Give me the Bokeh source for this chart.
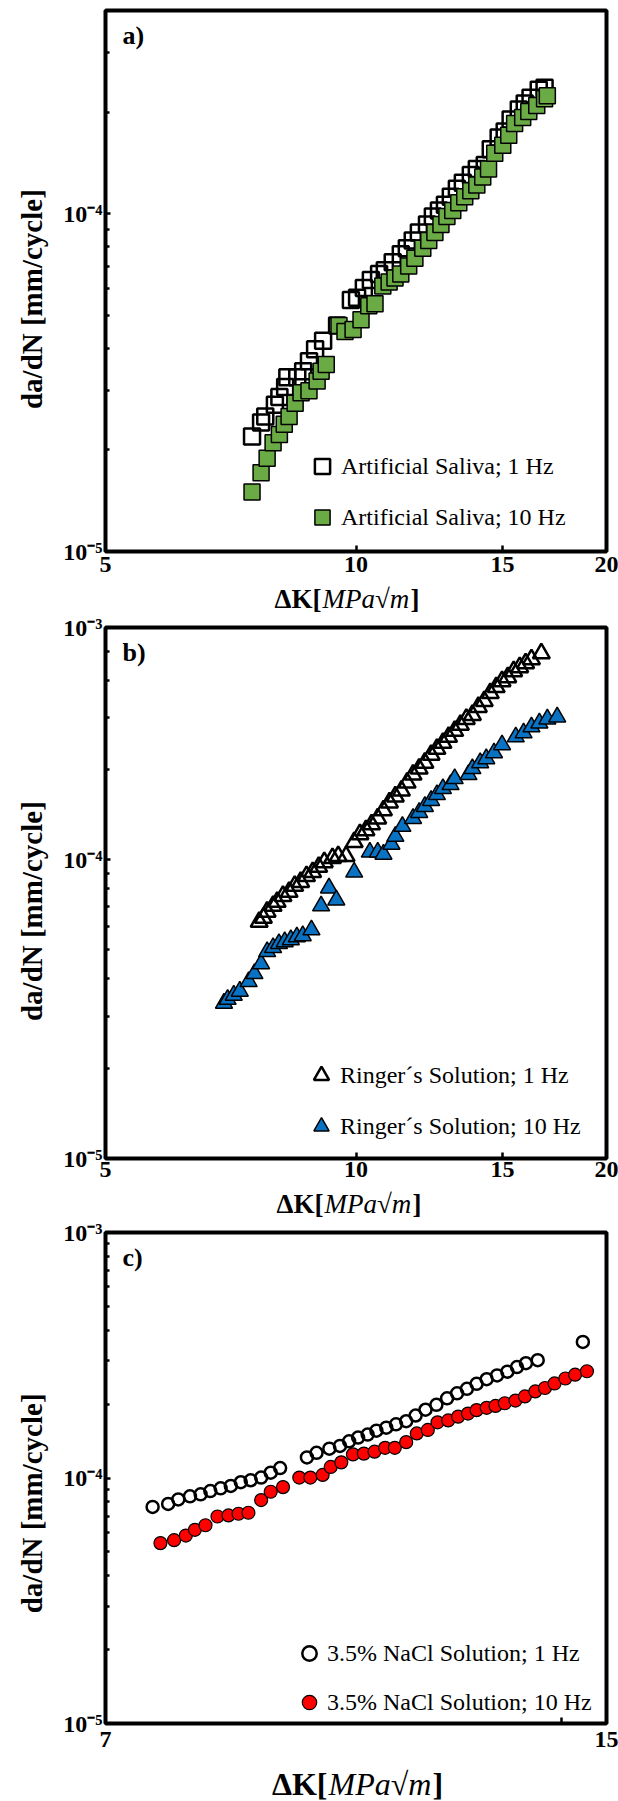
from bokeh.plotting import figure
from bokeh.models import FixedTicker, Legend, LegendItem, Label, Range1d
from bokeh.layouts import column
from bokeh.embed import file_html
from bokeh.resources import INLINE

FONT = "Liberation Serif"

# ---------------- data ----------------
# a) Artificial saliva
a_dk_1hz = [7.50, 7.69, 7.78, 7.99, 8.09, 8.22, 8.27, 8.50, 8.64, 8.78, 8.93, 9.13, 9.49, 9.86, 10.03,
            10.22, 10.42, 10.66, 10.83, 11.07, 11.32, 11.51, 11.70, 11.90, 12.17, 12.37, 12.58, 12.79,
            13.00, 13.22, 13.44, 13.74, 13.97, 14.28, 14.52, 14.84, 15.09, 15.34, 15.69, 15.95, 16.21,
            16.58, 16.85]
a_da_1hz = [2.19e-5, 2.41e-5, 2.51e-5, 2.72e-5, 2.87e-5, 3.07e-5, 3.28e-5, 3.28e-5, 3.42e-5, 3.66e-5,
            3.97e-5, 4.21e-5, 4.67e-5, 5.56e-5, 5.64e-5, 6.03e-5, 6.37e-5, 6.63e-5, 6.81e-5, 7.19e-5,
            7.59e-5, 7.91e-5, 8.34e-5, 8.81e-5, 9.30e-5, 9.81e-5, 1.022e-4, 1.064e-4, 1.123e-4, 1.186e-4,
            1.235e-4, 1.303e-4, 1.357e-4, 1.394e-4, 1.553e-4, 1.684e-4, 1.754e-4, 1.902e-4, 2.036e-4,
            2.120e-4, 2.208e-4, 2.330e-4, 2.362e-4]
a_dk_10hz = [7.50, 7.69, 7.82, 7.95, 8.09, 8.20, 8.31, 8.45, 8.59, 8.78, 8.98, 9.08, 9.21, 9.54, 9.70,
             9.92, 10.14, 10.36, 10.54, 10.77, 10.96, 11.14, 11.32, 11.57, 11.77, 12.03, 12.23, 12.44,
             12.65, 12.86, 13.07, 13.29, 13.51, 13.74, 13.97, 14.20, 14.43, 14.68, 15.01, 15.26, 15.51,
             15.86, 16.13, 16.49, 16.85, 16.98]
a_da_10hz = [1.50e-5, 1.71e-5, 1.89e-5, 2.10e-5, 2.22e-5, 2.38e-5, 2.51e-5, 2.75e-5, 2.95e-5, 2.99e-5,
             3.20e-5, 3.42e-5, 3.58e-5, 4.67e-5, 4.48e-5, 4.54e-5, 4.86e-5, 5.34e-5, 5.42e-5, 6.11e-5,
             6.28e-5, 6.45e-5, 6.63e-5, 7.00e-5, 7.39e-5, 7.91e-5, 8.34e-5, 8.81e-5, 9.30e-5, 9.81e-5,
             1.022e-4, 1.079e-4, 1.123e-4, 1.170e-4, 1.218e-4, 1.286e-4, 1.357e-4, 1.512e-4, 1.596e-4,
             1.708e-4, 1.852e-4, 1.929e-4, 2.009e-4, 2.092e-4, 2.190e-4, 2.238e-4]

# b) Ringer's solution
b_dk_1hz = [7.65, 7.74, 7.82, 7.95, 8.04, 8.17, 8.31, 8.44, 8.58, 8.72, 8.87, 9.02, 9.16, 9.37, 9.52,
            9.73, 9.95, 10.11, 10.28, 10.44, 10.62, 10.79, 10.97, 11.15, 11.34, 11.52, 11.71, 11.91,
            12.10, 12.31, 12.51, 12.72, 12.92, 13.14, 13.35, 13.57, 13.80, 14.03, 14.26, 14.50, 14.74,
            14.98, 15.22, 15.47, 15.73, 15.99, 16.25, 16.70]
b_da_1hz = [6.20e-5, 6.39e-5, 6.70e-5, 7.01e-5, 7.23e-5, 7.57e-5, 7.81e-5, 8.18e-5, 8.43e-5, 8.82e-5,
            9.10e-5, 9.47e-5, 9.82e-5, 1.013e-4, 1.029e-4, 1.029e-4, 1.146e-4, 1.218e-4, 1.256e-4,
            1.315e-4, 1.376e-4, 1.464e-4, 1.556e-4, 1.630e-4, 1.706e-4, 1.814e-4, 1.929e-4, 2.020e-4,
            2.115e-4, 2.248e-4, 2.354e-4, 2.465e-4, 2.581e-4, 2.703e-4, 2.830e-4, 2.963e-4, 3.055e-4,
            3.249e-4, 3.402e-4, 3.617e-4, 3.787e-4, 3.965e-4, 4.089e-4, 4.281e-4, 4.415e-4, 4.552e-4,
            4.694e-4, 4.914e-4]
b_dk_10hz = [6.94, 7.01, 7.13, 7.25, 7.43, 7.55, 7.69, 7.82, 7.95, 8.08, 8.21, 8.35, 8.49, 8.63, 8.84,
             9.08, 9.28, 9.47, 9.95, 10.39, 10.62, 10.79, 11.03, 11.15, 11.37, 11.71, 11.91, 12.10,
             12.31, 12.51, 12.72, 12.99, 13.14, 13.65, 13.80, 14.10, 14.34, 14.65, 14.98, 15.56, 15.90,
             16.25, 16.61, 16.98, 17.45]
b_da_10hz = [3.31e-5, 3.41e-5, 3.52e-5, 3.63e-5, 3.91e-5, 4.16e-5, 4.49e-5, 4.93e-5, 5.08e-5, 5.24e-5,
             5.32e-5, 5.40e-5, 5.52e-5, 5.57e-5, 5.83e-5, 7.01e-5, 8.05e-5, 7.34e-5, 9.10e-5, 1.061e-4,
             1.061e-4, 1.044e-4, 1.128e-4, 1.199e-4, 1.294e-4, 1.376e-4, 1.441e-4, 1.509e-4, 1.580e-4,
             1.654e-4, 1.732e-4, 1.786e-4, 1.871e-4, 1.929e-4, 2.020e-4, 2.115e-4, 2.181e-4, 2.283e-4,
             2.428e-4, 2.581e-4, 2.662e-4, 2.787e-4, 2.873e-4, 2.963e-4, 3.009e-4]

# c) 3.5% NaCl solution
c_dk_1hz = [7.52, 7.70, 7.82, 7.96, 8.09, 8.21, 8.34, 8.47, 8.60, 8.73, 8.87, 9.00, 9.13, 9.51, 9.65,
            9.84, 10.00, 10.14, 10.28, 10.43, 10.57, 10.73, 10.89, 11.06, 11.22, 11.39, 11.58, 11.77,
            11.95, 12.13, 12.31, 12.50, 12.70, 12.90, 13.09, 13.27, 13.51, 14.47]
c_da_1hz = [7.62e-5, 7.84e-5, 8.18e-5, 8.42e-5, 8.58e-5, 8.85e-5, 9.08e-5, 9.28e-5, 9.61e-5, 9.79e-5,
            1.004e-4, 1.051e-4, 1.098e-4, 1.213e-4, 1.266e-4, 1.317e-4, 1.351e-4, 1.410e-4, 1.461e-4,
            1.503e-4, 1.558e-4, 1.603e-4, 1.655e-4, 1.703e-4, 1.797e-4, 1.897e-4, 1.987e-4, 2.111e-4,
            2.212e-4, 2.309e-4, 2.419e-4, 2.525e-4, 2.617e-4, 2.712e-4, 2.831e-4, 2.934e-4, 3.019e-4,
            3.584e-4]
c_dk_10hz = [7.61, 7.77, 7.91, 8.02, 8.15, 8.30, 8.44, 8.57, 8.70, 8.87, 9.00, 9.17, 9.40, 9.56, 9.74,
             9.86, 10.02, 10.20, 10.37, 10.54, 10.71, 10.87, 11.06, 11.24, 11.43, 11.60, 11.79, 11.97,
             12.15, 12.31, 12.50, 12.67, 12.85, 13.06, 13.25, 13.46, 13.66, 13.86, 14.09, 14.30, 14.56]
c_da_10hz = [5.43e-5, 5.58e-5, 5.83e-5, 6.15e-5, 6.42e-5, 6.97e-5, 7.04e-5, 7.15e-5, 7.22e-5, 8.13e-5,
             8.79e-5, 9.18e-5, 1.004e-4, 1.004e-4, 1.029e-4, 1.109e-4, 1.158e-4, 1.248e-4, 1.257e-4,
             1.280e-4, 1.327e-4, 1.327e-4, 1.400e-4, 1.519e-4, 1.569e-4, 1.686e-4, 1.716e-4, 1.778e-4,
             1.830e-4, 1.890e-4, 1.931e-4, 1.966e-4, 2.016e-4, 2.067e-4, 2.149e-4, 2.252e-4, 2.326e-4,
             2.427e-4, 2.543e-4, 2.635e-4, 2.722e-4]

# axes / ticks / labels
a_x_ticks = [5, 10, 15, 20]
b_x_ticks = [5, 10, 15, 20]
c_x_ticks = [7, 15]
c_x_minor = [14]
a_y_ticks = [1e-5, 1e-4]
a_y_labels = ["10⁻⁵", "10⁻⁴"]
a_y_minor = [2e-5, 3e-5, 4e-5, 5e-5, 6e-5, 7e-5, 8e-5, 9e-5, 2e-4, 3e-4]
b_y_ticks = [1e-5, 1e-4, 6e-4]
b_y_labels = ["10⁻⁵", "10⁻⁴", "10⁻³"]
b_y_minor = [2e-5, 3e-5, 4e-5, 5e-5, 6e-5, 7e-5, 8e-5, 9e-5, 2e-4, 3e-4, 4e-4, 5e-4]
c_y_ticks = [1e-5, 1e-4, 1e-3]
c_y_labels = ["10⁻⁵", "10⁻⁴", "10⁻³"]
c_y_minor = [2e-5, 3e-5, 4e-5, 5e-5, 6e-5, 7e-5, 8e-5, 9e-5,
             2e-4, 3e-4, 4e-4, 5e-4, 6e-4, 7e-4, 8e-4, 9e-4]

X_TITLE_PARTS = ["ΔK[", "MPa√m", "]"]
Y_TITLE = "da/dN [mm/cycle]"
NBSP = "\u00a0"

W = 618
BL, BR = 105, 12   # same side borders for every strip so that frames line up


def make_panel(height, top, frame_h, xr, yr, xticks, xminor, yticks, ylabels, yminor,
               tag, x_std, y_shift_spaces):
    p = figure(width=W, height=height, x_axis_type="log", y_axis_type="log",
               x_range=Range1d(*xr), y_range=Range1d(*yr),
               output_backend="svg", toolbar_location=None,
               min_border_left=BL, min_border_right=BR, min_border_top=top,
               min_border_bottom=height - top - frame_h)
    p.grid.visible = False
    p.outline_line_color = "black"
    p.outline_line_width = 4
    p.background_fill_color = "white"
    p.border_fill_color = "white"

    xa = p.xaxis[0]
    ya = p.yaxis[0]
    xa.ticker = FixedTicker(ticks=xticks, minor_ticks=xminor)
    xa.major_label_overrides = {t: str(t) for t in xticks}
    ya.ticker = FixedTicker(ticks=yticks, minor_ticks=yminor)
    ya.major_label_overrides = dict(zip(yticks, ylabels))

    for ax in (xa, ya):
        ax.axis_line_color = None
        ax.major_tick_out = 0
        ax.minor_tick_out = 0
        ax.major_tick_line_width = 2.5
        ax.minor_tick_line_width = 2.5
        ax.major_label_text_font = FONT
        ax.major_label_text_font_style = "bold"
        ax.major_label_text_font_size = "24px"
        ax.major_label_text_color = "black"
    xa.major_tick_in = 6
    xa.minor_tick_in = 6
    ya.major_tick_in = 5
    ya.minor_tick_in = 4
    xa.major_label_standoff = x_std
    ya.major_label_standoff = 3

    # y-axis title; trailing no-break spaces move it down as in the original
    ya.axis_label = Y_TITLE + NBSP * y_shift_spaces
    ya.axis_label_text_font = FONT
    ya.axis_label_text_font_style = "bold"
    ya.axis_label_text_font_size = "29px"
    ya.axis_label_text_color = "black"
    ya.axis_label_standoff = 12

    p.add_layout(Label(x=17, y=frame_h - 10, x_units="screen", y_units="screen", text=tag,
                       text_font=FONT, text_font_style="bold", text_font_size="26px",
                       text_baseline="top", text_align="left", text_color="black"))
    return p


def title_strip(height, cy, right_x, size):
    """x-axis title: bold 'ΔK[' + italic 'MPa√m' + bold ']'  (x measured from frame left)."""
    f = figure(width=W, height=height, x_range=Range1d(0, 1), y_range=Range1d(0, 1),
               output_backend="svg", toolbar_location=None,
               x_axis_location=None, y_axis_location=None,
               min_border_left=BL, min_border_right=BR, min_border_top=0, min_border_bottom=0)
    f.outline_line_color = None
    f.grid.visible = False
    f.background_fill_color = "white"
    f.border_fill_color = "white"
    fs = f"{size}px"
    common = dict(y=cy, x_units="screen", y_units="screen", text_baseline="middle",
                  text_font=FONT, text_font_size=fs, text_color="black")
    f.add_layout(Label(x=right_x, text=X_TITLE_PARTS[0], text_align="right",
                       text_font_style="bold", **common))
    f.add_layout(Label(x=right_x + 1, text=X_TITLE_PARTS[1], text_align="left",
                       text_font_style="italic", **common))
    f.add_layout(Label(x=right_x + 2 + round(3.215 * size), text=X_TITLE_PARTS[2], text_align="left",
                       text_font_style="bold", **common))
    return f


def add_legend(p, items, loc, gw, gh, sp):
    leg = Legend(items=[LegendItem(label=lab, renderers=[r]) for lab, r in items],
                 location=loc, border_line_color=None, background_fill_alpha=0,
                 padding=0, margin=0, spacing=sp, glyph_width=gw, glyph_height=gh,
                 label_standoff=-4, label_text_font=FONT, label_text_font_size="24px",
                 label_text_color="black")
    p.add_layout(leg)


# ---- panel a ----  (page y 0..583, frame 10..551)
pa = make_panel(583, 10, 541, (5, 20), (1e-5, 4e-4), a_x_ticks, [], a_y_ticks, a_y_labels,
                a_y_minor, "a)", 5, 5)
ra1 = pa.scatter(a_dk_1hz, a_da_1hz, marker="square", size=16, fill_color=None,
                 line_color="black", line_width=2.5)
ra2 = pa.scatter(a_dk_10hz, a_da_10hz, marker="square", size=16, fill_color="#6AAB45",
                 line_color="black", line_width=1.5)
add_legend(pa, [("Artificial Saliva; 1 Hz", ra1), ("Artificial Saliva; 10 Hz", ra2)], (198, 14), 38, 40, 11)
ta = title_strip(30, 15, 216, 27)           # page y 583..613

# ---- panel b ----  (page y 613..1188, frame 627..1158)
pb = make_panel(575, 14, 531, (5, 20), (1e-5, 6e-4), b_x_ticks, [], b_y_ticks, b_y_labels,
                b_y_minor, "b)", 3, 5)
rb1 = pb.scatter(b_dk_1hz, b_da_1hz, marker="triangle", size=17, fill_color=None,
                 line_color="black", line_width=2.5)
rb2 = pb.scatter(b_dk_10hz, b_da_10hz, marker="triangle", size=17, fill_color="#0A72C2",
                 line_color="black", line_width=1.5)
add_legend(pb, [("Ringer´s Solution; 1 Hz", rb1), ("Ringer´s Solution; 10 Hz", rb2)], (197, 12), 38, 40, 11)
tb = title_strip(30, 15, 218, 27)           # page y 1188..1218

# ---- panel c ----  (page y 1218..1758, frame 1232..1723)
pc = make_panel(540, 14, 491, (7, 15), (1e-5, 1e-3), c_x_ticks, c_x_minor, c_y_ticks, c_y_labels,
                c_y_minor, "c)", 8, 7)
rc1 = pc.scatter(c_dk_1hz, c_da_1hz, marker="circle", size=12, fill_color=None,
                 line_color="black", line_width=2.5)
rc2 = pc.scatter(c_dk_10hz, c_da_10hz, marker="circle", size=13, fill_color="#FF0000",
                 line_color="black", line_width=1.2)
add_legend(pc, [("3.5% NaCl Solution; 1 Hz", rc1), ("3.5% NaCl Solution; 10 Hz", rc2)], (186, 3), 36, 36, 13)
tc = title_strip(43, 18, 222, 32)           # page y 1758..1801

layout = column(pa, ta, pb, tb, pc, tc)
open("out.html", "w").write(file_html(layout, INLINE))
